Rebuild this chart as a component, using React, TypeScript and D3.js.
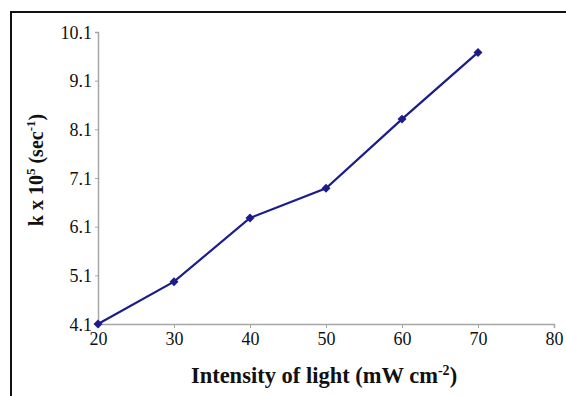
import { useEffect, useRef } from 'react';
import * as d3 from 'd3';

const intensity = [20, 30, 40, 50, 60, 70];
const rateK = [4.1, 4.97, 6.28, 6.89, 8.31, 9.68];
const xTicks = [20, 30, 40, 50, 60, 70, 80];
const yTicks = [4.1, 5.1, 6.1, 7.1, 8.1, 9.1, 10.1];

const W = 566;
const H = 396;

export default function App() {
  const svgRef = useRef<SVGSVGElement>(null);

  useEffect(() => {
    if (!svgRef.current) return;
    const svg = d3.select(svgRef.current);
    svg.selectAll('*').remove();

    const margin = { top: 32, right: 12, bottom: 72, left: 98 };
    const x = d3.scaleLinear().domain([20, 80]).range([margin.left, W - margin.right]);
    const y = d3.scaleLinear().domain([4.1, 10.1]).range([H - margin.bottom, margin.top]);
    const font = "'Liberation Serif'";
    const axisColor = '#a6a6a6';
    const lineColor = '#1c1c8a';

    // outer frame (only top and left edges are in view)
    svg.append('rect')
      .attr('x', 11).attr('y', 12)
      .attr('width', W + 20).attr('height', H + 20)
      .attr('fill', 'white')
      .attr('stroke', '#111').attr('stroke-width', 2);

    const xAxis = svg.append('g')
      .attr('transform', `translate(0,${y(4.1)})`)
      .call(d3.axisBottom(x).tickValues(xTicks).tickSize(4).tickPadding(4).tickFormat(d => `${d}`));
    xAxis.attr('font-family', null).attr('font-size', null);
    xAxis.select('.domain').attr('stroke', axisColor).attr('stroke-width', 1.5);
    xAxis.selectAll('.tick line').attr('stroke', axisColor);
    xAxis.selectAll('text')
      .attr('fill', '#111').style('font-family', font).style('font-size', '18px');

    const yAxis = svg.append('g')
      .attr('transform', `translate(${x(20)},0)`)
      .call(d3.axisLeft(y).tickValues(yTicks).tickSize(3).tickPadding(3).tickFormat(d => (d as number).toFixed(1)));
    yAxis.attr('font-family', null).attr('font-size', null);
    yAxis.select('.domain').attr('stroke', axisColor).attr('stroke-width', 1.5);
    yAxis.selectAll('.tick line').attr('stroke', axisColor);
    yAxis.selectAll('text')
      .attr('fill', '#111').style('font-family', font).style('font-size', '18px')
      .attr('dy', '0.34em');

    const pts = intensity.map((v, i) => [v, rateK[i]] as [number, number]);
    const line = d3.line<[number, number]>().x(d => x(d[0])).y(d => y(d[1]));

    svg.append('path')
      .datum(pts)
      .attr('d', line)
      .attr('fill', 'none')
      .attr('stroke', lineColor)
      .attr('stroke-width', 2.2);

    svg.selectAll('.marker')
      .data(pts)
      .enter()
      .append('path')
      .attr('class', 'marker')
      .attr('transform', d => `translate(${x(d[0])},${y(d[1])}) rotate(45)`)
      .attr('d', d3.symbol().type(d3.symbolSquare).size(40)())
      .attr('fill', lineColor);

    const xTitle = svg.append('text')
      .attr('x', (x(20) + x(80)) / 2 - 2)
      .attr('y', 383)
      .attr('text-anchor', 'middle')
      .style('font-family', font)
      .style('font-weight', 'bold')
      .style('font-size', '22.5px')
      .attr('fill', '#111');
    xTitle.append('tspan').text('Intensity of light (mW cm');
    xTitle.append('tspan').style('font-size', '14px').attr('dy', '-8').text('-2');
    xTitle.append('tspan').attr('dy', '8').text(')');

    const yTitle = svg.append('text')
      .attr('transform', `translate(43,170) rotate(-90)`)
      .attr('text-anchor', 'middle')
      .style('font-family', font)
      .style('font-weight', 'bold')
      .style('font-size', '20px')
      .attr('fill', '#111');
    yTitle.append('tspan').text('k x 10');
    yTitle.append('tspan').style('font-size', '13px').attr('dy', '-8').text('5');
    yTitle.append('tspan').attr('dy', '8').text(' (sec');
    yTitle.append('tspan').style('font-size', '13px').attr('dy', '-8').text('-1');
    yTitle.append('tspan').attr('dy', '8').text(')');
  }, []);

  return (
    <svg
      ref={svgRef}
      width={W}
      height={H}
      style={{ position: 'absolute', left: 0, top: 0, background: 'white' }}
    />
  );
}
